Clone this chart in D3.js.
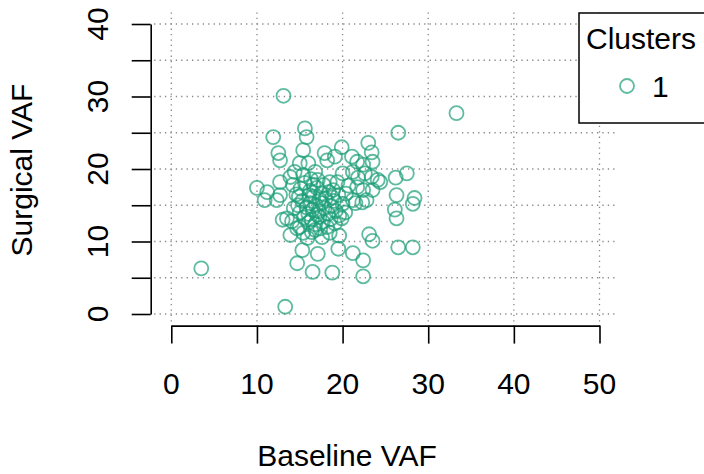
<!DOCTYPE html>
<html>
<head>
<meta charset="utf-8">
<script src="https://cdn.jsdelivr.net/npm/d3@7"></script>
<style>
  html, body { margin: 0; padding: 0; background: #fff; }
  svg text { font-family: "Liberation Sans", Arial, Helvetica, sans-serif; fill: #000; }
</style>
</head>
<body>
<svg id="chart" width="704" height="474"></svg>
<script>
// ---- data ----
const baselineVAF = [
  13.1, 33.3, 3.5, 13.3, 26.5, 11.9, 15.6, 15.8, 15.4, 12.5, 12.7, 16.0, 15.0, 14.4, 12.7, 10.0, 11.2, 12.7, 10.9, 12.3, 13.9, 14.2,
  19.9, 23.0, 23.4, 17.9, 19.1, 21.1, 21.7, 22.4, 23.5, 18.2, 20.0, 21.2, 22.6, 21.8, 23.4, 24.1, 16.8, 17.1, 18.5, 18.9, 21.7, 22.4, 23.5, 21.2, 22.8,
  27.5, 26.2, 24.4, 26.3, 28.4, 28.2, 26.1, 26.3, 26.5, 28.2,
  13.5, 13.9, 15.3, 14.7, 16.5, 15.0, 16.4, 13.0, 16.0,
  19.9, 17.6, 19.6, 19.5, 21.2, 22.4, 22.4, 17.1, 18.8, 23.1, 23.5, 21.5, 22.3,
  14.6, 15.1, 15.6, 16.2, 16.6, 17.0, 17.5, 18.0, 18.4, 19.0, 19.5, 20.0, 20.4, 14.8, 15.3, 15.8, 16.2, 16.5, 16.9, 17.2, 17.6, 17.9,
  18.3, 18.7, 19.2, 19.6, 15.0, 15.5, 16.0, 16.4, 16.8, 17.3, 17.7, 18.2, 18.6, 19.1, 14.3, 14.1, 14.7, 15.4, 15.9, 16.8, 17.4, 18.5,
  17.8, 16.3, 15.4, 19.4, 20.7, 20.3, 14.9, 16.1, 17.3, 18.8, 17.0, 16.6
];
const surgicalVAF = [
  30.1, 27.7, 6.3, 1.0, 25.0, 24.4, 25.6, 24.4, 22.6, 22.2, 21.2, 20.8, 20.8, 19.6, 18.2, 17.4, 16.8, 16.4, 15.7, 15.7, 18.9, 17.8,
  23.0, 23.6, 22.3, 22.2, 21.7, 21.7, 21.0, 20.6, 21.0, 21.2, 19.4, 19.6, 19.4, 18.8, 18.9, 18.5, 19.6, 18.5, 18.2, 17.1, 17.5, 17.1, 17.1, 15.7, 15.7,
  19.4, 18.8, 18.2, 16.4, 16.0, 15.2, 14.4, 13.2, 9.2, 9.2,
  13.2, 10.9, 8.8, 7.0, 5.8, 12.0, 11.3, 13.0, 12.6,
  13.2, 10.6, 10.8, 9.0, 8.4, 7.4, 5.2, 8.3, 5.7, 11.0, 10.1, 15.3, 15.4,
  16.5, 17.3, 18.1, 17.0, 16.2, 17.4, 16.6, 15.9, 16.8, 15.6, 16.4, 15.2, 16.6, 15.0, 15.6, 14.7, 15.3, 14.4, 15.0, 14.2, 15.3, 14.6,
  13.8, 14.9, 14.2, 13.6, 14.0, 13.3, 13.8, 13.0, 12.4, 13.4, 12.7, 12.0, 13.1, 12.5, 14.6, 12.8, 11.8, 11.2, 10.5, 11.6, 11.8, 11.2,
  17.8, 18.6, 19.2, 18.2, 17.7, 14.0, 16.2, 16.4, 15.8, 16.1, 13.7, 17.8
];
const clusterLabels = ["1"];
const xTicks = [0, 10, 20, 30, 40, 50];
const yTicks = [0, 5, 10, 15, 20, 25, 30, 35, 40];
const yLabelTicks = [0, 10, 20, 30, 40];

const points = baselineVAF.map((b, i) => ({ x: b, y: surgicalVAF[i], cluster: "1" }));

// ---- layout ----
const svg = d3.select("#chart");
const x = d3.scaleLinear().domain([0, 50]).range([171.3, 599.5]);
const y = d3.scaleLinear().domain([0, 40]).range([314, 24]);
const color = d3.scaleOrdinal().domain(clusterLabels).range(["#1b9e77"]);
const FS = 30;

const plotLeft = x(-2), plotRight = x(52), plotTop = y(41.6), plotBottom = y(-1.6);

// grid (dotted)
const grid = svg.append("g").attr("stroke", "#888").attr("stroke-width", 1.3).attr("stroke-dasharray", "1.3,4.1").attr("fill", "none");
grid.selectAll("line.h").data(yTicks).join("line")
  .attr("x1", plotLeft).attr("x2", plotRight)
  .attr("y1", d => y(d)).attr("y2", d => y(d));
grid.selectAll("line.v").data(xTicks).join("line")
  .attr("x1", d => x(d)).attr("x2", d => x(d))
  .attr("y1", plotTop).attr("y2", plotBottom);

// x axis
const xAxis = svg.append("g").attr("transform", `translate(0,${plotBottom})`)
  .call(d3.axisBottom(x).tickValues(xTicks).tickSize(18).tickSizeOuter(0).tickFormat(""));
xAxis.selectAll("path,line").attr("stroke", "#000").attr("stroke-width", 1.6);
svg.append("g").selectAll("text").data(xTicks).join("text")
  .attr("x", d => x(d)).attr("y", 393.5)
  .attr("text-anchor", "middle").attr("font-size", FS)
  .text(d => d);

// y axis
const yAxis = svg.append("g").attr("transform", `translate(150.7,0)`)
  .call(d3.axisLeft(y).tickValues(yTicks).tickSize(19).tickSizeOuter(0).tickFormat(""));
yAxis.selectAll("path,line").attr("stroke", "#000").attr("stroke-width", 1.6);
svg.append("g").selectAll("text").data(yLabelTicks).join("text")
  .attr("transform", d => `translate(107.5,${y(d)}) rotate(-90)`)
  .attr("text-anchor", "middle").attr("font-size", FS)
  .text(d => d);

// axis titles
svg.append("text").attr("x", 347).attr("y", 466).attr("text-anchor", "middle")
  .attr("font-size", FS).text("Baseline VAF");
svg.append("text").attr("transform", "translate(32,170) rotate(-90)").attr("text-anchor", "middle")
  .attr("font-size", FS).text("Surgical VAF");

// points
svg.append("g").selectAll("circle").data(points).join("circle")
  .attr("cx", d => x(d.x)).attr("cy", d => y(d.y)).attr("r", 7)
  .attr("fill", "none").attr("stroke", d => color(d.cluster))
  .attr("stroke-opacity", 0.7).attr("stroke-width", 1.8);

// legend
const lg = svg.append("g");
lg.append("rect").attr("x", 579).attr("y", 13).attr("width", 140).attr("height", 110)
  .attr("fill", "#fff").attr("stroke", "#000").attr("stroke-width", 1.5);
lg.append("text").attr("x", 586).attr("y", 49).attr("font-size", FS).text("Clusters");
lg.selectAll("circle").data(clusterLabels).join("circle")
  .attr("cx", 627).attr("cy", 86).attr("r", 7)
  .attr("fill", "none").attr("stroke", d => color(d)).attr("stroke-opacity", 0.7).attr("stroke-width", 1.8);
lg.selectAll("text.lab").data(clusterLabels).join("text").attr("class", "lab")
  .attr("x", 652).attr("y", 97).attr("font-size", FS).text(d => d);
</script>
</body>
</html>
